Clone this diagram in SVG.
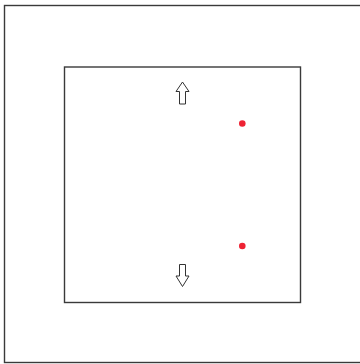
<svg xmlns="http://www.w3.org/2000/svg" width="360" height="364" viewBox="0 0 360 364">
<style>
.frame{fill:none;stroke:#3a3a3a;stroke-width:1.4}
.arrow{fill:#fff;stroke:#333;stroke-width:1}
.dot{fill:#ee2233}
</style>
<rect width="360" height="364" fill="#fff"/>
<g id="outer"><rect class="frame" x="4.5" y="5.5" width="380" height="357"/></g>
<g id="inner"><rect class="frame" x="64.5" y="67" width="236" height="235.5"/></g>
<g id="arrow-up"><path class="arrow" d="M182.5,82 L189,91.5 L185.5,91.5 L185.5,104 L179.5,104 L179.5,91.5 L176,91.5 Z"/></g>
<g id="arrow-down"><path class="arrow" d="M182.5,286.5 L189,276 L185.5,276 L185.5,264.5 L179.5,264.5 L179.5,276 L176,276 Z"/></g>
<g id="dot-top"><circle class="dot" cx="242.3" cy="123.5" r="3.3"/></g>
<g id="dot-bottom"><circle class="dot" cx="242.3" cy="246" r="3.3"/></g>
</svg>
